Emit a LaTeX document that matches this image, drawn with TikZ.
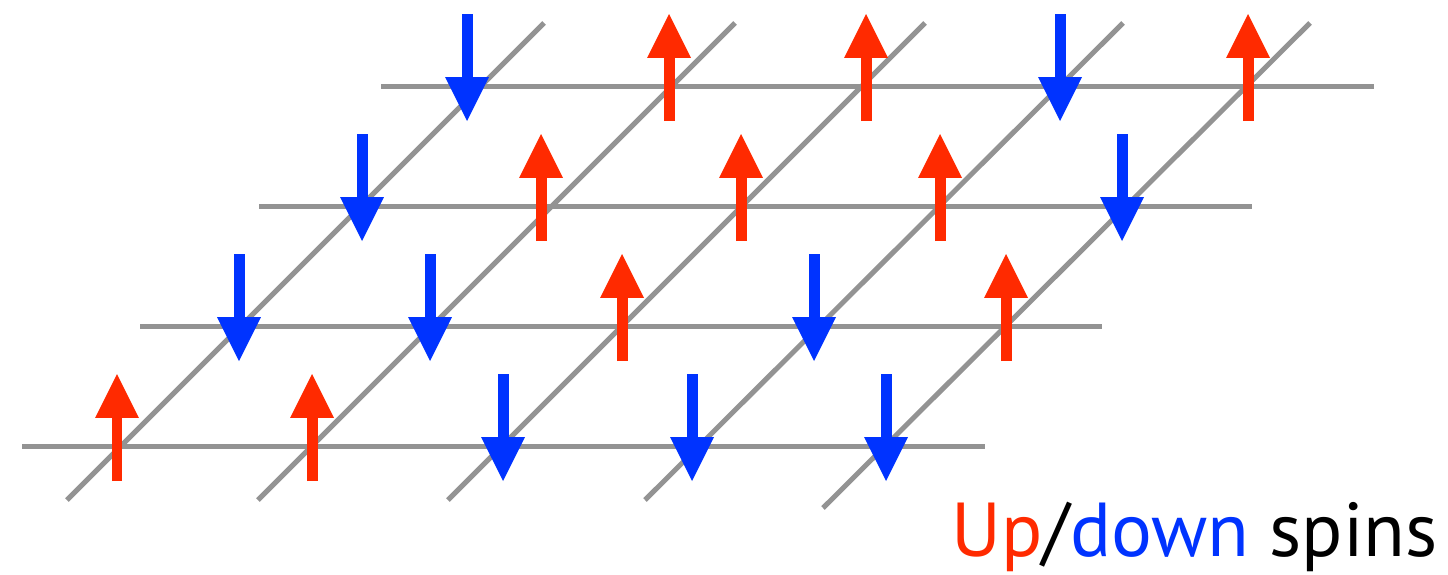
\documentclass[tikz,border=0pt]{standalone}
\usepackage{fontspec}
\newfontfamily\lblfont{PT Sans}
\usetikzlibrary{arrows.meta}
\definecolor{spred}{RGB}{255,42,0}
\definecolor{spblue}{RGB}{0,51,255}
\definecolor{latgray}{RGB}{147,147,147}
\tikzset{
  lat/.style = {draw=latgray, line width=0.1cm},
  spup/.style = {-{Triangle[length=0.88cm, width=0.88cm, line width=0pt]},
    draw=spred, line width=0.22cm},
  spdn/.style = {{Triangle[length=0.88cm, width=0.88cm, line width=0pt]}-,
    draw=spblue, line width=0.22cm},
  lbl/.style = {font=\lblfont\fontsize{43.5}{48}\selectfont, inner sep=0pt}
}

\begin{document}
\begin{tikzpicture}[x=0.02cm, y=-0.02cm]
  \useasboundingbox (0,0) rectangle (1448,575);
  \draw [lat] (381,86) -- (1374,86);
  \draw [lat] (259,206) -- (1252,206);
  \draw [lat] (140,326) -- (1102,326);
  \draw [lat] (22,446) -- (985,446);
  \draw [lat] (67,500) -- (544,23);
  \draw [lat] (258,500) -- (735,23);
  \draw [lat] (448,500) -- (925,23);
  \draw [lat] (645,500) -- (1123,23);
  \draw [lat] (823,508) -- (1310,23);
  \foreach \x/\y in {669/86, 866/86, 1248/86, 541/206, 741/206, 940/206,
      622/326, 1006/326, 117/446, 312/446}
    \draw [spup] (\x,\y+35) -- (\x,\y-72);
  \foreach \x/\y in {467/86, 1060/86, 362/206, 1122/206, 239/326, 430/326,
      814/326, 503/446, 692/446, 886/446}
    \draw [spdn] (\x,\y+35) -- (\x,\y-72);
  \node [lbl, anchor=base east] (lbl) at (1438,556)
    {\textcolor{spred}{Up}/\textcolor{spblue}{down} spins};
\end{tikzpicture}
\end{document}
